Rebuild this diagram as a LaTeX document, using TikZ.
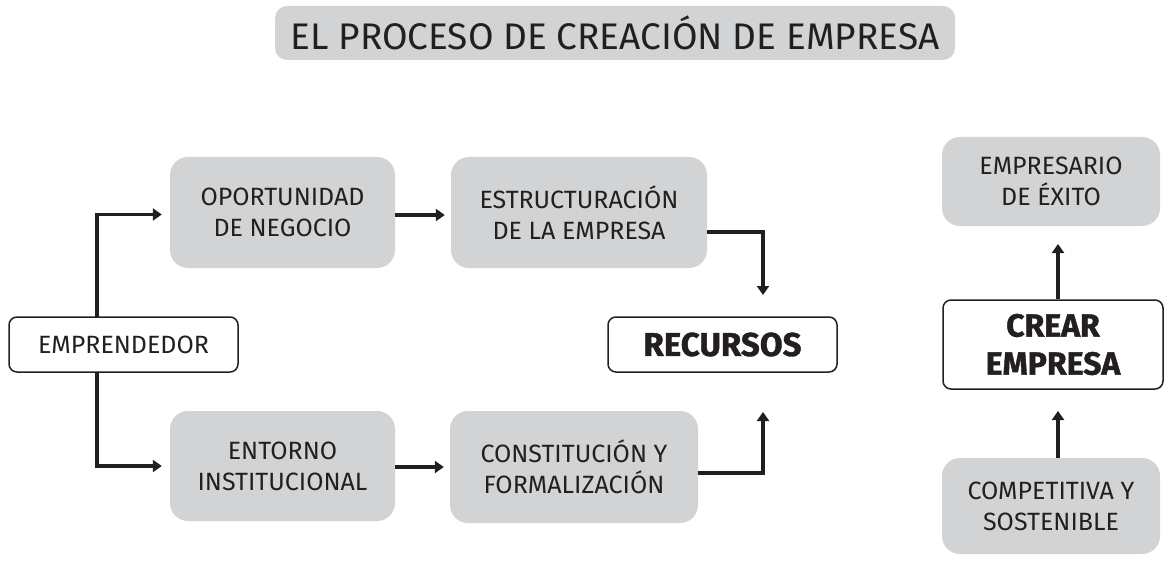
\documentclass[tikz,border=0pt]{standalone}
\usepackage{fontspec}
\setmainfont{Fira Sans}[BoldFeatures={FakeBold=1.2}]
\usetikzlibrary{arrows.meta}
\definecolor{boxgray}{HTML}{D1D3D4}
\definecolor{ink}{HTML}{231F20}
\tikzset{
  graybox/.style={fill=boxgray, draw=none, rounded corners=18pt, align=center,
    text=ink, font=\fontsize{25}{31}\selectfont, inner sep=0pt},
  whitebox/.style={fill=white, draw=ink, line width=1.5pt, rounded corners=8pt,
    align=center, text=ink, inner sep=0pt},
  arr/.style={draw=ink, line width=3.5pt, -{Triangle[length=9pt,width=12pt]}},
}
\begin{document}
\begin{tikzpicture}[x=1pt,y=-1pt]
\useasboundingbox (0,0) rectangle (1165,567);
% title
\node[graybox, rounded corners=12pt, minimum width=680pt, minimum height=54pt,
  font=\fontsize{37}{40}\selectfont] (title) at (615,33) {EL PROCESO DE CREACIÓN DE EMPRESA};
% boxes
\node[whitebox, minimum width=229pt, minimum height=55pt, font=\fontsize{25}{30}\selectfont]
  (emp) at (123.5,344.5) {EMPRENDEDOR};
\node[graybox, minimum width=225pt, minimum height=111pt] (oport) at (282.5,212.5)
  {OPORTUNIDAD\\DE NEGOCIO};
\node[graybox, minimum width=225pt, minimum height=110pt] (entorno) at (282.5,466)
  {ENTORNO\\INSTITUCIONAL};
\node[graybox, minimum width=256pt, minimum height=111pt] (estruc) at (579,212.5)
  {ESTRUCTURACIÓN\\DE LA EMPRESA};
\node[graybox, minimum width=248pt, minimum height=112pt] (constit) at (574,467)
  {CONSTITUCIÓN Y\\FORMALIZACIÓN};
\node[whitebox, minimum width=229pt, minimum height=55pt, font=\bfseries\fontsize{33}{36}\selectfont]
  (recursos) at (722.5,344.5) {RECURSOS};
\node[graybox, minimum width=218pt, minimum height=89pt] (exito) at (1051,181.5)
  {EMPRESARIO\\DE ÉXITO};
\node[whitebox, minimum width=220pt, minimum height=89pt, font=\bfseries\fontsize{32}{38}\selectfont]
  (crear) at (1053,344.5) {CREAR\\EMPRESA};
\node[graybox, minimum width=218pt, minimum height=96pt] (compet) at (1051,506)
  {COMPETITIVA Y\\SOSTENIBLE};
% helper coordinates
\coordinate (j1) at (97,317);
\coordinate (j2) at (97,372);
\coordinate (s1) at (707,232);
\coordinate (t1) at (763,295);
\coordinate (s2) at (698,473);
\coordinate (t2) at (763,412);
\coordinate (t3) at (1058,244);
\coordinate (t4) at (1058,411);
% connectors
\draw[arr] (j1) |- ([xshift=-8pt,yshift=-2pt]oport.west);
\draw[arr] (j2) |- ([xshift=-8pt]entorno.west);
\draw[arr] ([yshift=-2.5pt]oport.east) -- ([xshift=-6pt,yshift=-2.5pt]estruc.west);
\draw[arr] ([yshift=-1pt]entorno.east) -- ([xshift=-6pt]constit.west |- 0,467);
\draw[arr] (s1) -| (t1);
\draw[arr] (s2) -| (t2);
\draw[arr] (crear.north -| t3) -- (t3);
\draw[arr] (compet.north -| t4) -- (t4);
\end{tikzpicture}
\end{document}
